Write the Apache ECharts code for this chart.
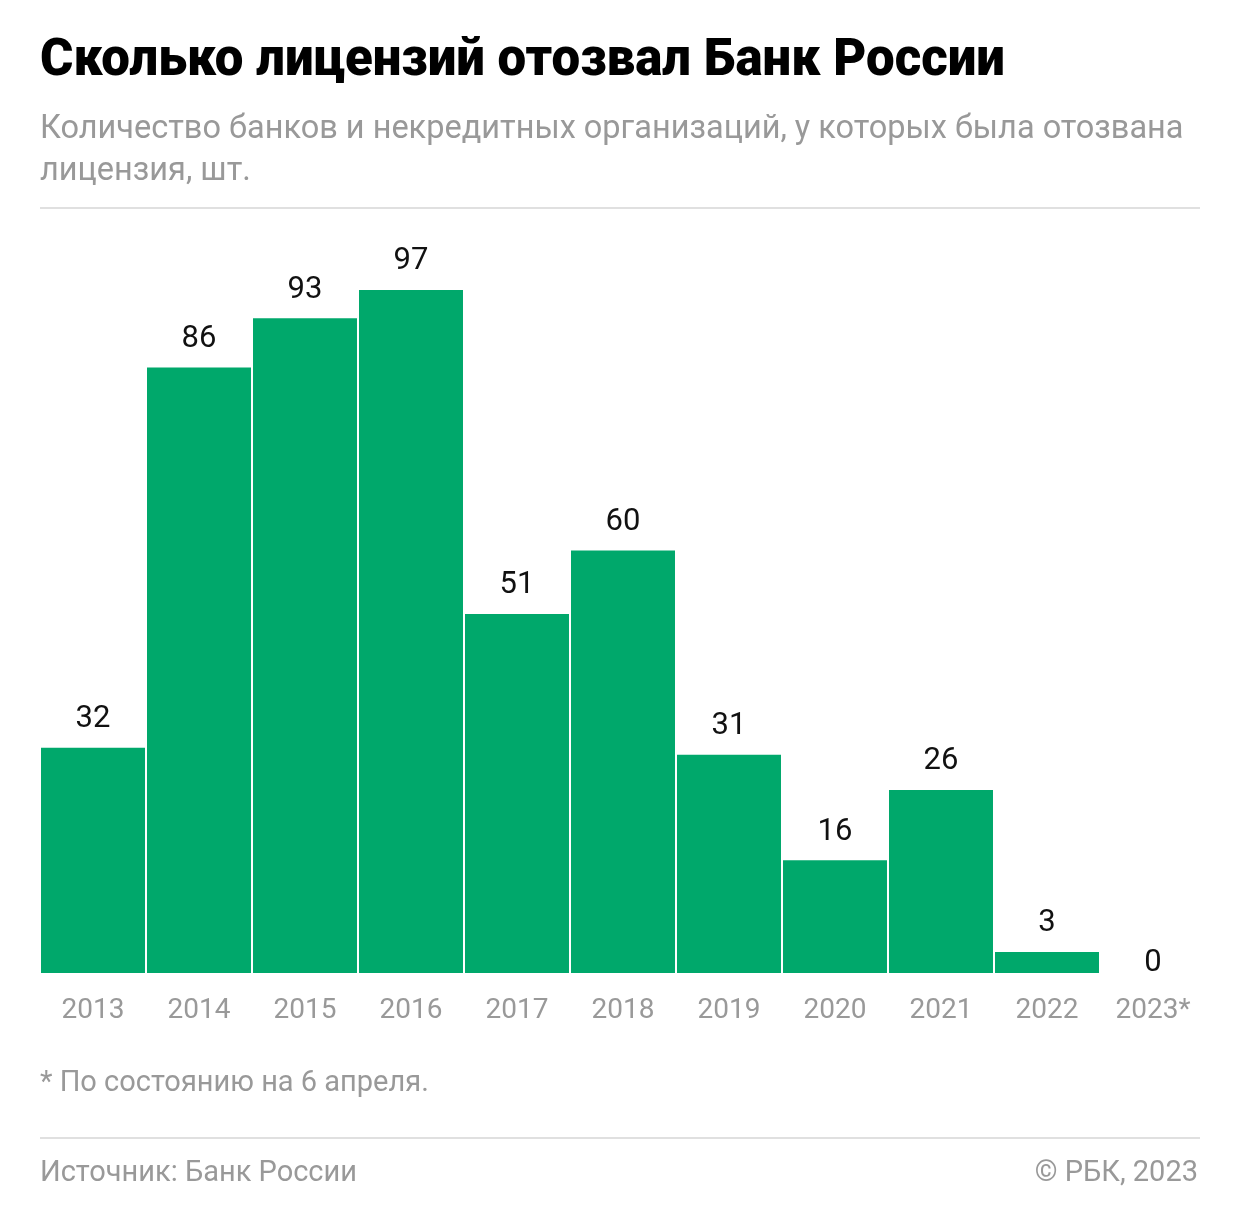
<!DOCTYPE html>
<html><head><meta charset="utf-8">
<script src="https://cdn.jsdelivr.net/npm/echarts@6/dist/echarts.min.js"></script>
<style>html,body{margin:0;padding:0;background:#fff}#c{width:1240px;height:1226px}</style>
</head><body><div id="c"></div>
<script>
const categories = ['2013','2014','2015','2016','2017','2018','2019','2020','2021','2022','2023*'];
const revoked = [32,86,93,97,51,60,31,16,26,3,0];
const titleText = 'Сколько лицензий отозвал Банк России';
const subtitleLines = ['Количество банков и некредитных организаций, у которых была отозвана','лицензия, шт.'];
const footnote = '* По состоянию на 6 апреля.';
const sourceText = 'Источник: Банк России';
const copyrightText = '© РБК, 2023';

const chart = echarts.init(document.getElementById('c'));
const F = 'Roboto, "Noto Sans", sans-serif';
const seriesData = revoked.map(v => v === 0 ? {value: v, label: {distance: -6}} : v);
chart.setOption({
  animation: false,
  backgroundColor: '#fff',
  grid: {left: 40, right: 34, top: 269, bottom: 253},
  xAxis: {
    type: 'category', data: categories,
    axisLine: {show: false}, axisTick: {show: false},
    axisLabel: {color: '#999', fontSize: 28, fontFamily: F, margin: 24}
  },
  yAxis: {type: 'value', min: 0, max: 100, show: false, splitLine: {show: false}},
  series: [{
    type: 'bar', data: seriesData, barCategoryGap: '1.9%',
    itemStyle: {color: '#00a86b'},
    label: {show: true, position: 'top', distance: 13, color: '#111', fontSize: 31, fontFamily: F}
  }],
  graphic: [
    {type: 'text', left: 40, top: 37, style: {text: titleText, fill: '#000', font: '900 51px ' + F}},
    {type: 'text', left: 40, top: 109, style: {text: subtitleLines.join('\n'), fill: '#999', font: '32.5px ' + F, lineHeight: 42}},
    {type: 'rect', shape: {x: 40, y: 207, width: 1160, height: 2}, style: {fill: '#e0e0e0'}},
    {type: 'text', left: 40, top: 1069, style: {text: footnote, fill: '#999', font: '29px ' + F}},
    {type: 'rect', shape: {x: 40, y: 1137, width: 1160, height: 2}, style: {fill: '#e0e0e0'}},
    {type: 'text', left: 40, top: 1159, style: {text: sourceText, fill: '#999', font: '29px ' + F}},
    {type: 'text', right: 42, top: 1159, style: {text: copyrightText, fill: '#999', font: '29px ' + F}}
  ]
});
</script></body></html>
